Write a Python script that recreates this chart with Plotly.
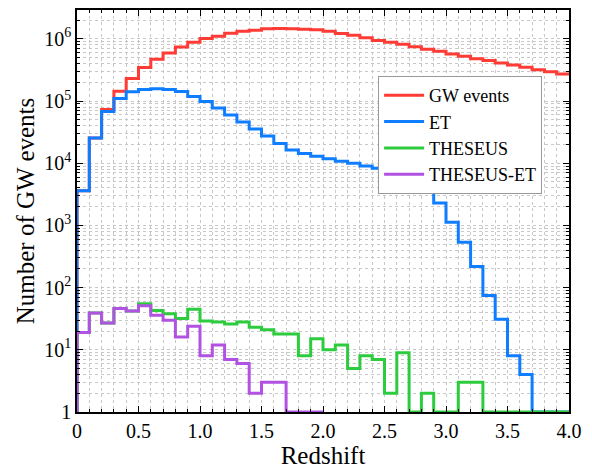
import numpy as np
import plotly.graph_objects as go

bin_edges = [round(0.1 * i, 1) for i in range(41)]

gw_events = [3.6e3, 2.55e4, 7.3e4, 1.44e5, 2.3e5, 3.46e5, 4.7e5, 5.9e5, 7.4e5, 8.8e5,
             1.01e6, 1.1e6, 1.23e6, 1.33e6, 1.38e6, 1.45e6, 1.47e6, 1.45e6, 1.43e6, 1.4e6,
             1.33e6, 1.22e6, 1.14e6, 1.04e6, 9.4e5, 8.8e5, 8.2e5, 7.5e5, 6.8e5, 6.3e5,
             5.7e5, 5.25e5, 4.8e5, 4.5e5, 4.1e5, 3.8e5, 3.5e5, 3.2e5, 2.95e5, 2.72e5]

et = [3.6e3, 2.55e4, 6.8e4, 1.1e5, 1.41e5, 1.53e5, 1.58e5, 1.53e5, 1.43e5, 1.18e5,
      9.8e4, 7.7e4, 5.97e4, 4.6e4, 3.56e4, 2.74e4, 2.08e4, 1.64e4, 1.44e4, 1.3e4,
      1.18e4, 1.08e4, 1.0e4, 9.0e3, 8.3e3, 7.5e3, 6.4e3, 5.1e3, 3.8e3, 2.3e3,
      1.12e3, 536, 219, 75, 31, 8, 4, 0, 0, 0]

theseus = [19, 39, 27, 46, 42, 55, 43, 38, 32, 45,
           29, 28, 26, 28, 23, 21, 18, 18, 8, 15,
           10, 12, 5, 8, 7, 2, 9, 0, 2, 0,
           0, 3, 3, 0, 0, 0, 0, 0, 0, 0]

theseus_et = [19, 39, 27, 46, 42, 51, 36, 30, 16, 24,
              8, 12, 7, 6, 2, 3, 3, 0, 0, 0]

series = [
    ("GW events", gw_events, "#ff3b36"),
    ("ET", et, "#0f7dff"),
    ("THESEUS", theseus, "#2ccc3e"),
    ("THESEUS-ET", theseus_et, "#b152e2"),
]

FLOOR = 1.0

fig = go.Figure()
for name, counts, color in series:
    n = len(counts)
    edges = bin_edges[: n + 1]
    vals = [c if c > 0 else FLOOR for c in counts]
    xs = [edges[0]] + edges[:n] + [edges[n]]
    ys = [FLOOR] + vals + [vals[-1]]
    fig.add_trace(go.Scatter(x=xs, y=ys, mode="lines", name=name,
                             line=dict(color=color, width=3, shape="hv")))

serif = "Liberation Serif, Times New Roman, serif"
grid_c = "#c8c8c8"

fig.update_layout(
    width=592, height=473,
    margin=dict(l=77, r=23, t=8, b=50),
    paper_bgcolor="white", plot_bgcolor="white",
    font=dict(family=serif, size=20, color="black"),
    showlegend=True,
    legend=dict(x=0.612, y=0.836, xanchor="left", yanchor="top",
                bgcolor="white", bordercolor="#999999", borderwidth=1,
                font=dict(family=serif, size=18), itemwidth=40,
                tracegroupgap=0),
)

fig.update_xaxes(
    range=[0, 4.0],
    tickvals=[0, 0.5, 1.0, 1.5, 2.0, 2.5, 3.0, 3.5, 4.0],
    ticktext=["0", "0.5", "1.0", "1.5", "2.0", "2.5", "3.0", "3.5", "4.0"],
    ticks="inside", ticklen=6, tickwidth=1.2, tickcolor="black",
    showline=True, linecolor="black", linewidth=1.5, mirror="allticks",
    showgrid=True, gridcolor=grid_c, griddash="dot", gridwidth=1,
    minor=dict(dtick=0.1, ticks="inside", ticklen=3, tickcolor="black",
               showgrid=True, gridcolor=grid_c, griddash="dot", gridwidth=1),
    zeroline=False,
    title=dict(text="Redshift", font=dict(family=serif, size=25), standoff=6),
    tickfont=dict(family=serif, size=20),
)

fig.update_yaxes(
    type="log",
    range=[0, 6.464],
    tickvals=[1, 10, 100, 1e3, 1e4, 1e5, 1e6],
    ticktext=["1", "10<sup>1</sup>", "10<sup>2</sup>", "10<sup>3</sup>",
              "10<sup>4</sup>", "10<sup>5</sup>", "10<sup>6</sup>"],
    ticks="inside", ticklen=6, tickwidth=1.2, tickcolor="black",
    showline=True, linecolor="black", linewidth=1.5, mirror="allticks",
    showgrid=True, gridcolor=grid_c, griddash="dot", gridwidth=1,
    minor=dict(dtick="D1", ticks="inside", ticklen=3, tickcolor="black",
               showgrid=True, gridcolor=grid_c, griddash="dot", gridwidth=1),
    zeroline=False,
    title=dict(text="Number of GW events", font=dict(family=serif, size=25), standoff=3),
    tickfont=dict(family=serif, size=20),
)

fig.write_html("out.html")
